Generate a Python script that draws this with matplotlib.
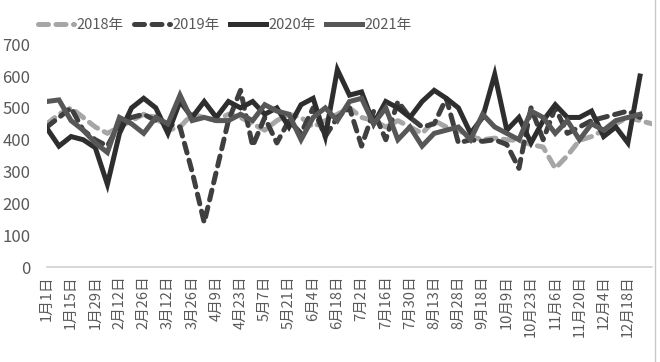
import numpy as np
import matplotlib
matplotlib.use("Agg")
import matplotlib.pyplot as plt
from matplotlib.lines import Line2D

plt.rcParams['font.family'] = ['Noto Sans CJK SC', 'DejaVu Sans']

# weekly dates, only every second one is labelled on the axis
dates = ["1月1日", "1月8日", "1月15日", "1月22日", "1月29日", "2月5日", "2月12日",
         "2月19日", "2月26日", "3月5日", "3月12日", "3月19日", "3月26日", "4月2日",
         "4月9日", "4月16日", "4月23日", "4月30日", "5月7日", "5月14日", "5月21日",
         "5月28日", "6月4日", "6月11日", "6月18日", "6月25日", "7月2日", "7月9日",
         "7月16日", "7月23日", "7月30日", "8月6日", "8月13日", "8月20日", "8月28日",
         "9月10日", "9月18日", "9月25日", "10月9日", "10月16日", "10月23日",
         "10月30日", "11月6日", "11月13日", "11月20日", "11月27日", "12月4日",
         "12月11日", "12月18日", "12月25日", "12月31日"]

y2018 = [450, 480, 500, 470, 440, 420, 440, 460, 480, 470, 430, 440, 480, 470,
         460, 480, 470, 450, 430, 460, 480, 470, 440, 460, 480, 500, 470, 460,
         440, 460, 440, 420, 460, 440, 430, 410, 400, 405, 400, 398, 385, 377,
         310, 350, 398, 410, 430, 450, 470, 460, 450]
y2019 = [440, 470, 500, 430, 400, 380, 450, 470, 480, 460, 450, 440, 300, 140,
         300, 460, 555, 380, 470, 390, 460, 420, 500, 410, 470, 500, 380, 490,
         400, 520, 470, 440, 450, 530, 390, 400, 395, 400, 385, 310, 500, 400,
         500, 420, 440, 460, 470, 480, 490, 470, np.nan]
y2020 = [436, 380, 410, 400, 375, 260, 420, 500, 530, 500, 420, 520, 470, 520,
         470, 520, 500, 520, 480, 500, 440, 510, 530, 410, 620, 540, 550, 450,
         520, 500, 470, 520, 555, 530, 500, 420, 470, 605, 430, 470, 390, 460,
         510, 470, 470, 490, 410, 440, 390, 600, np.nan]
y2021 = [520, 525, 460, 430, 390, 360, 470, 450, 420, 470, 450, 540, 460, 470,
         460, 460, 480, 460, 510, 490, 480, 400, 470, 500, 460, 520, 530, 450,
         500, 400, 440, 380, 420, 430, 440, 400, 480, 440, 420, 400, 490, 470,
         420, 460, 400, 450, 430, 460, 470, 480, np.nan]

series = [
    ("2018年", y2018, "#a6a6a6", True),
    ("2019年", y2019, "#3f3f3f", True),
    ("2020年", y2020, "#2e2e2e", False),
    ("2021年", y2021, "#575757", False),
]

fig = plt.figure(figsize=(6.6, 3.62), dpi=100)
ax = fig.add_axes([0.071, 0.262, 0.917, 0.616])

x = np.arange(len(dates))
for name, vals, color, dashed in series:
    line, = ax.plot(x, vals, color=color, lw=3.6, label=name,
                    solid_joinstyle='miter', dash_capstyle='round')
    if dashed:
        line.set_dashes((2.0, 1.5))

ax.set_xlim(0, len(dates) - 1)
ax.set_ylim(0, 700)
ax.set_yticks(range(0, 701, 100))
ax.set_xticks(x[::2][:25])
ax.set_xticklabels(dates[::2][:25], rotation=90)
ax.tick_params(axis='both', length=0, colors='#595959')
ax.tick_params(axis='y', labelsize=12, pad=12)
ax.tick_params(axis='x', labelsize=10.5, pad=6)
for side in ['top', 'right', 'left']:
    ax.spines[side].set_visible(False)
ax.spines['bottom'].set_color('#d0d0d0')
ax.spines['bottom'].set_linewidth(1.2)

leg = ax.legend(loc='center left', bbox_to_anchor=(-0.025, 1.085),
                ncol=4, frameon=False, fontsize=10.5, handlelength=2.5,
                handletextpad=0.15, columnspacing=0.7, borderaxespad=0)
for t in leg.get_texts():
    t.set_color('#595959')

# chart border on the right edge
fig.add_artist(Line2D([0.993, 0.993], [0.0, 1.0], color='#c8c8c8', lw=1.0))

fig.savefig("out.png", dpi=100)
